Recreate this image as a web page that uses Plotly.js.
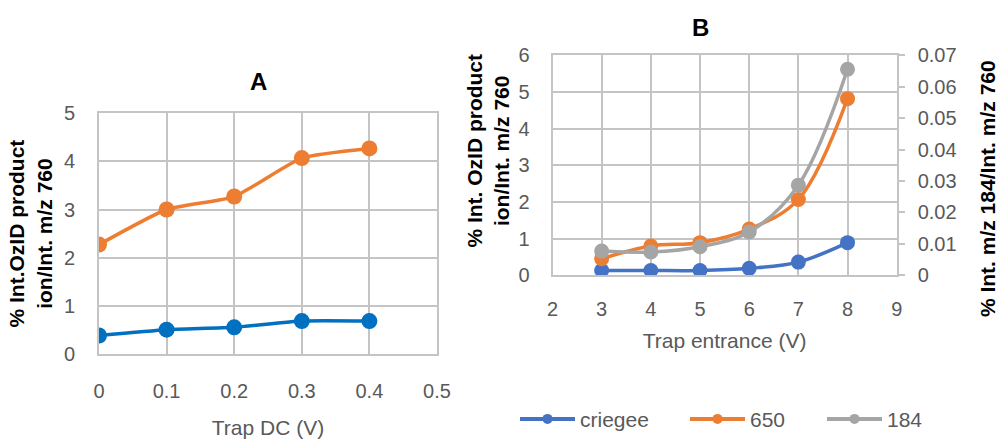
<!DOCTYPE html>
<html>
<head>
<meta charset="utf-8">
<script src="https://cdn.plot.ly/plotly-3.0.1.min.js"></script>
<style>html,body{margin:0;padding:0;background:#fff;}#chart{width:1000px;height:440px;}</style>
</head>
<body>
<div id="chart"></div>
<script>
// Panel A data
const trapDC = [0, 0.1, 0.2, 0.3, 0.4];
const A_criegee = [0.38, 0.50, 0.55, 0.68, 0.68];
const A_650 = [2.27, 3.00, 3.27, 4.07, 4.27];

// Panel B data
const trapEntrance = [3, 4, 5, 6, 7, 8];
const B_criegee = [0.13, 0.13, 0.13, 0.19, 0.36, 0.89];
const B_650 = [0.45, 0.80, 0.89, 1.26, 2.07, 4.82];
const B_184 = [0.0077, 0.0074, 0.0091, 0.0138, 0.0287, 0.0656];

const seriesNames = ['criegee', '650', '184'];
const colA = ['#0070C0', '#ED7D31'];
const colB = ['#4472C4', '#ED7D31', '#A5A5A5'];

const FONT = 'Liberation Sans, Arial, sans-serif';
const GRID = '#c4c4c4';
const TICKC = '#595959';
const NB = '\u00a0';

const traces = [
  {x: trapDC, y: A_criegee, xaxis: 'x', yaxis: 'y', mode: 'lines+markers', name: seriesNames[0], showlegend: false,
   line: {color: colA[0], width: 3.5, shape: 'spline', smoothing: 0.5}, marker: {color: colA[0], size: 16}},
  {x: trapDC, y: A_650, xaxis: 'x', yaxis: 'y', mode: 'lines+markers', name: seriesNames[1], showlegend: false,
   line: {color: colA[1], width: 3.5, shape: 'spline', smoothing: 0.5}, marker: {color: colA[1], size: 16}},
  {x: trapEntrance, y: B_criegee, xaxis: 'x2', yaxis: 'y2', mode: 'lines+markers', name: seriesNames[0], showlegend: false,
   line: {color: colB[0], width: 3.5, shape: 'spline'}, marker: {color: colB[0], size: 15}},
  {x: trapEntrance, y: B_650, xaxis: 'x2', yaxis: 'y2', mode: 'lines+markers', name: seriesNames[1], showlegend: false,
   line: {color: colB[1], width: 3.5, shape: 'spline'}, marker: {color: colB[1], size: 15}},
  {x: trapEntrance, y: B_184, xaxis: 'x2', yaxis: 'y3', mode: 'lines+markers', name: seriesNames[2], showlegend: false,
   line: {color: colB[2], width: 3.5, shape: 'spline'}, marker: {color: colB[2], size: 15}}
];
// legend entries (no data drawn; small markers as in the reference legend)
const legendIds = ['legend', 'legend2', 'legend3'];
seriesNames.forEach((nm, i) => {
  traces.push({x: [null], y: [null], xaxis: 'x2', yaxis: 'y2', mode: 'lines+markers', name: nm,
    legend: legendIds[i], showlegend: true,
    line: {color: colB[i], width: 4}, marker: {color: colB[i], size: 10}});
});

const axBase = {
  showgrid: true, gridcolor: GRID, gridwidth: 2,
  showline: true, linecolor: GRID, linewidth: 2, mirror: true,
  zeroline: false, ticks: '', automargin: false,
  tickfont: {family: FONT, size: 20, color: TICKC}
};

const legBase = {
  orientation: 'h', xanchor: 'left', y: 0.025, yanchor: 'middle',
  font: {family: FONT, size: 21, color: TICKC}, itemwidth: 55,
  bgcolor: 'rgba(0,0,0,0)'
};

const layout = {
  width: 1000, height: 440,
  margin: {l: 0, r: 0, t: 0, b: 0},
  paper_bgcolor: '#ffffff', plot_bgcolor: '#ffffff',
  font: {family: FONT, size: 20, color: TICKC},
  xaxis: Object.assign({}, axBase, {
    domain: [0.099, 0.437], anchor: 'y', range: [0, 0.5], dtick: 0.1, tick0: 0,
    ticklabelstandoff: 18,
    title: {text: 'Trap DC (V)', font: {family: FONT, size: 21, color: TICKC}, standoff: 20}
  }),
  yaxis: Object.assign({}, axBase, {
    domain: [0.1773, 0.7364], anchor: 'x', range: [0, 5], dtick: 1, tick0: 0,
    ticklabelstandoff: 18,
    title: {text: '<b>% Int.OzID product<br>ion/Int. m/z 760</b>', font: {family: FONT, size: 21, color: '#000'}, standoff: 6}
  }),
  xaxis2: Object.assign({}, axBase, {
    domain: [0.5525, 0.8967], anchor: 'y2', range: [2, 9], dtick: 1, tick0: 2,
    ticklabelstandoff: 15,
    title: {text: 'Trap entrance (V)', font: {family: FONT, size: 21, color: TICKC}, standoff: 14}
  }),
  yaxis2: Object.assign({}, axBase, {
    domain: [0.3598, 0.8711], anchor: 'x2', range: [0, 6], dtick: 1, tick0: 0,
    ticklabelstandoff: 17,
    title: {text: '<b>' + NB.repeat(5) + '% Int. OzID product<br>' + NB.repeat(5) + 'ion/Int. m/z 760</b>',
            font: {family: FONT, size: 21, color: '#000'}, standoff: 3}
  }),
  yaxis3: {
    overlaying: 'y2', side: 'right', anchor: 'x2', range: [0, 0.07], dtick: 0.01, tick0: 0,
    showgrid: false, zeroline: false, showline: false, automargin: false,
    ticks: 'outside', ticklen: 7, tickwidth: 2, tickcolor: GRID,
    ticklabelstandoff: 9,
    tickfont: {family: FONT, size: 20, color: TICKC},
    title: {text: '<b>% Int. m/z 184/Int. m/z 760' + NB.repeat(8) + '</b>',
            font: {family: FONT, size: 21, color: '#000'}, standoff: 24}
  },
  showlegend: true,
  legend: Object.assign({}, legBase, {x: 0.515}),
  legend2: Object.assign({}, legBase, {x: 0.685}),
  legend3: Object.assign({}, legBase, {x: 0.822}),
  annotations: [
    {text: '<b>A</b>', x: 0.258, y: 1 - 83/440, xref: 'paper', yref: 'paper', showarrow: false,
     font: {family: FONT, size: 24, color: '#000'}, xanchor: 'center', yanchor: 'middle'},
    {text: '<b>B</b>', x: 0.700, y: 1 - 28/440, xref: 'paper', yref: 'paper', showarrow: false,
     font: {family: FONT, size: 24, color: '#000'}, xanchor: 'center', yanchor: 'middle'}
  ]
};

Plotly.newPlot('chart', traces, layout, {displayModeBar: false, staticPlot: true});
</script>
</body>
</html>
